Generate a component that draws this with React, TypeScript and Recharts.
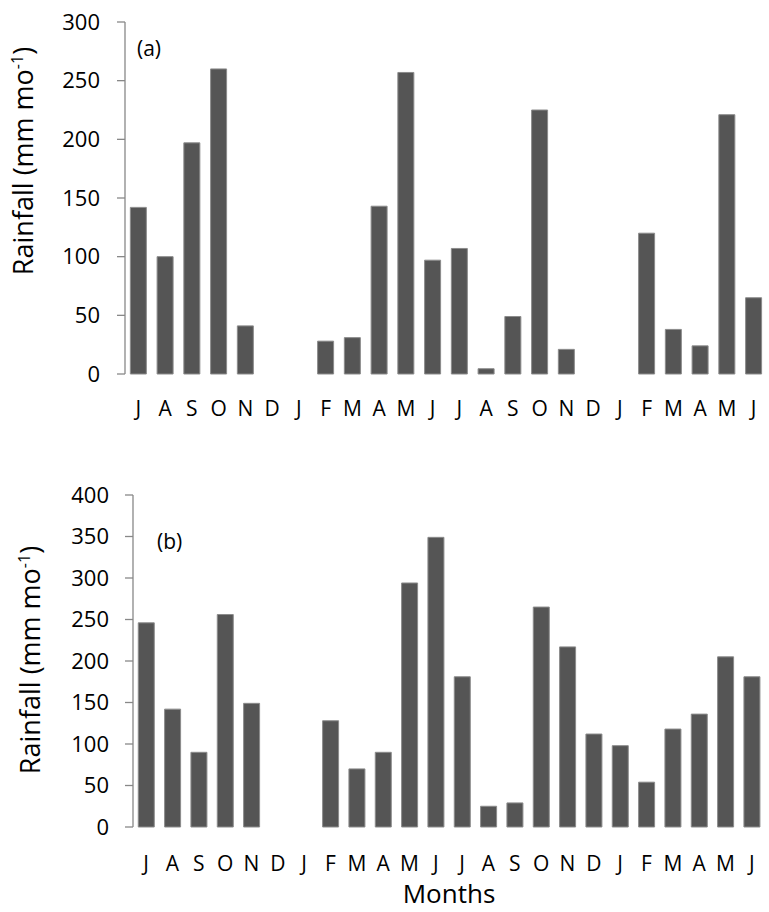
import React from 'react';
import { BarChart, Bar, XAxis, YAxis } from 'recharts';

// Month initials along the x axis (July through the following June, twice)
const months = ['J', 'A', 'S', 'O', 'N', 'D', 'J', 'F', 'M', 'A', 'M', 'J', 'J', 'A', 'S', 'O', 'N', 'D', 'J', 'F', 'M', 'A', 'M', 'J'];

// Monthly rainfall (mm per month), panel (a)
const rainfallA = [142, 100, 197, 260, 41, 0, 0, 28, 31, 143, 257, 97, 107, 4.5, 49, 225, 21, 0, 0, 120, 38, 24, 221, 65];

// Monthly rainfall (mm per month), panel (b)
const rainfallB = [246, 142, 90, 256, 149, 0, 0, 128, 70, 90, 294, 349, 181, 25, 29, 265, 217, 112, 98, 54, 118, 136, 205, 181];

const yTicksA = [0, 50, 100, 150, 200, 250, 300];
const yTicksB = [0, 50, 100, 150, 200, 250, 300, 350, 400];

// Tick marks sit on the boundaries between months
const boundaryTicks = months.map((_, i) => i).concat(months.length);

const FONT = '"Open Sans", sans-serif';
const AXIS = '#888888';
const BAR_FILL = '#555555';
const BAR_EDGE = '#8c8c8c';

type PanelProps = {
  values: number[];
  yMax: number;
  yTicks: number[];
  tag: string;
  top: number;
  height: number;
  margin: { top: number; right: number; bottom: number; left: number };
  yWidth: number;
  yTickMargin: number;
  xTickMargin: number;
  titleX: number;
  titleY: number;
  tagDx: number;
  tagDy: number;
  showXTitle: boolean;
};

const YTitle = (props: any) => {
  const { viewBox, titleX, titleY, tag, tagDx, tagDy } = props;
  const x = viewBox.x + titleX;
  const y = viewBox.y + titleY;
  return (
    <g>
      <text
        x={x}
        y={y}
        transform={`rotate(-90, ${x}, ${y})`}
        textAnchor="middle"
        fontFamily={FONT}
        fontSize={27}
        fill="#000"
      >
        Rainfall (mm mo
        <tspan dy={-10} fontSize={16}>-1</tspan>
        <tspan dy={10}>)</tspan>
      </text>
      <text
        x={viewBox.x + viewBox.width + tagDx}
        y={viewBox.y + tagDy}
        fontFamily={FONT}
        fontSize={21}
        fill="#000"
      >
        {tag}
      </text>
    </g>
  );
};

const XTitle = (props: any) => {
  const { viewBox } = props;
  return (
    <text
      x={viewBox.x + viewBox.width / 2}
      y={viewBox.y + 76}
      textAnchor="middle"
      fontFamily={FONT}
      fontSize={26}
      fill="#000"
    >
      Months
    </text>
  );
};

const Panel = (p: PanelProps) => {
  const data = months.map((m, i) => ({ m, v: p.values[i] }));
  return (
    <div style={{ position: 'absolute', left: 0, top: p.top }}>
      <BarChart width={769} height={p.height} data={data} margin={p.margin} barCategoryGap="20%">
        <XAxis
          xAxisId="edge"
          type="number"
          domain={[0, months.length]}
          ticks={boundaryTicks}
          allowDataOverflow
          tick={false}
          height={0}
          tickSize={8}
          axisLine={{ stroke: AXIS, strokeWidth: 1.3 }}
          tickLine={{ stroke: AXIS, strokeWidth: 1.3 }}
        />
        <XAxis
          xAxisId="cat"
          dataKey="m"
          type="category"
          allowDuplicatedCategory
          interval={0}
          height={40}
          tickSize={0}
          tickMargin={p.xTickMargin}
          axisLine={false}
          tickLine={false}
          tick={{ fill: '#000', fontSize: 21, fontFamily: FONT }}
          label={p.showXTitle ? <XTitle /> : undefined}
        />
        <YAxis
          type="number"
          domain={[0, p.yMax]}
          ticks={p.yTicks}
          width={p.yWidth}
          tickSize={8}
          tickMargin={p.yTickMargin}
          axisLine={{ stroke: AXIS, strokeWidth: 1.3 }}
          tickLine={{ stroke: AXIS, strokeWidth: 1.3 }}
          tick={{ fill: '#000', fontSize: 22, fontFamily: FONT }}
          label={
            <YTitle
              titleX={p.titleX}
              titleY={p.titleY}
              tag={p.tag}
              tagDx={p.tagDx}
              tagDy={p.tagDy}
            />
          }
        />
        <Bar
          xAxisId="cat"
          dataKey="v"
          fill={BAR_FILL}
          stroke={BAR_EDGE}
          strokeWidth={1}
          isAnimationActive={false}
        />
      </BarChart>
    </div>
  );
};

export default function App() {
  return (
    <div style={{ position: 'absolute', left: 0, top: 0, width: 769, height: 912, background: '#fff' }}>
      <Panel
        values={rainfallA}
        yMax={300}
        yTicks={yTicksA}
        tag="(a)"
        top={0}
        height={440}
        margin={{ top: 22, right: 2, bottom: 26, left: 0 }}
        yWidth={125}
        yTickMargin={17}
        xTickMargin={27}
        titleX={33}
        titleY={139}
        tagDx={12}
        tagDy={34}
        showXTitle={false}
      />
      <Panel
        values={rainfallB}
        yMax={400}
        yTicks={yTicksB}
        tag="(b)"
        top={450}
        height={462}
        margin={{ top: 45, right: 4, bottom: 45, left: 0 }}
        yWidth={133}
        yTickMargin={16}
        xTickMargin={29}
        titleX={40}
        titleY={165}
        tagDx={24}
        tagDy={54}
        showXTitle
      />
    </div>
  );
}
